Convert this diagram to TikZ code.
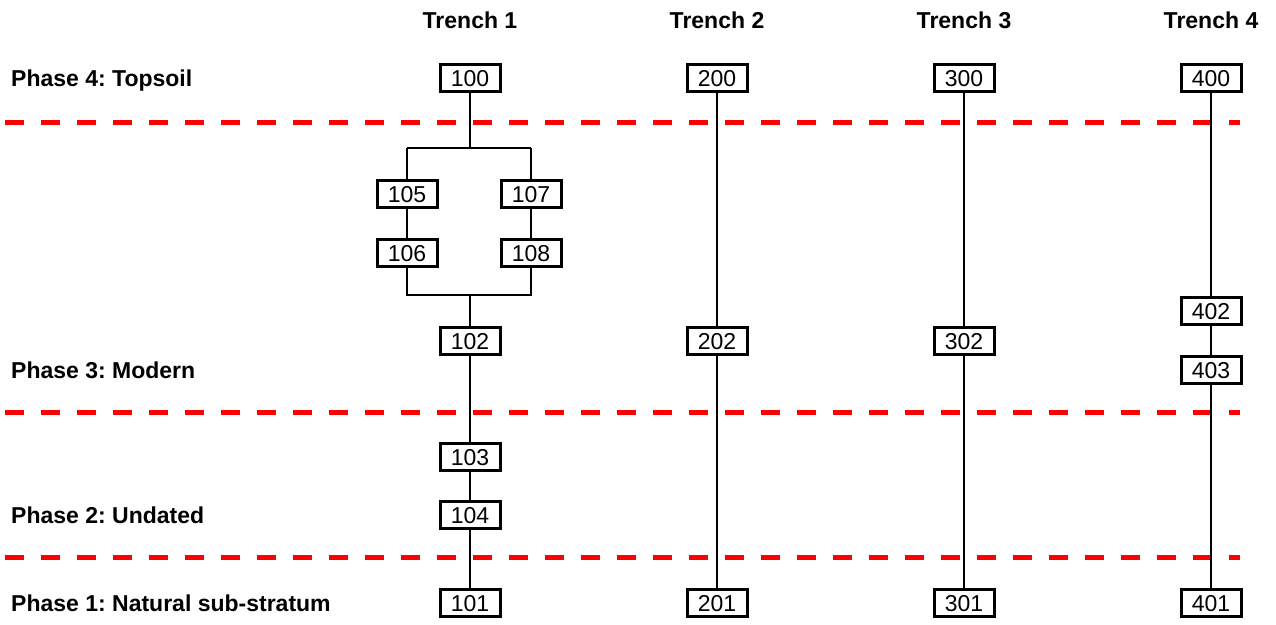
\documentclass[tikz,border=0pt]{standalone}
\usepackage{fontspec}
\setmainfont{Liberation Sans}
\frenchspacing
\begin{document}
\begin{tikzpicture}[x=1pt,y=-1pt,
  ctx/.style={draw=black,line width=3pt,fill=white,minimum width=60pt,minimum height=27.5pt,inner sep=0pt,text height=16.5pt,text depth=0pt,font=\fontsize{23}{27}\selectfont},
  lbl/.style={font=\fontsize{23}{27}\selectfont\bfseries,inner sep=0pt},
  phase/.style={red,line width=5pt,dash pattern=on 19pt off 17pt},
  link/.style={line width=1.5pt}]
\useasboundingbox (0,0) rectangle (1276,624);
% phase dividers
\coordinate (d1a) at (5,122); \coordinate (d1b) at (1240,122);
\coordinate (d2a) at (5,412); \coordinate (d2b) at (1240,412);
\coordinate (d3a) at (5,557); \coordinate (d3b) at (1240,557);
\draw[phase] (d1a) -- (d1b);
\draw[phase] (d2a) -- (d2b);
\draw[phase] (d3a) -- (d3b);
% labels
\node[lbl,anchor=base] (t1) at (470,28.5) {Trench 1};
\node[lbl,anchor=base] (t2) at (717,28.5) {Trench 2};
\node[lbl,anchor=base] (t3) at (964,28.5) {Trench 3};
\node[lbl,anchor=base] (t4) at (1211,28.5) {Trench 4};
\node[lbl,anchor=base west] (p4) at (11,86.5) {Phase 4: Topsoil};
\node[lbl,anchor=base west] (p3) at (11,378.5) {Phase 3: Modern};
\node[lbl,anchor=base west] (p2) at (11,523.5) {Phase 2: Undated};
\node[lbl,anchor=base west] (p1) at (11,611.5) {Phase 1: Natural sub-stratum};
% branch coordinates
\coordinate (s1) at (470,148);
\coordinate (sl) at (407,148);
\coordinate (sr) at (531,148);
\coordinate (j1) at (470,295);
\coordinate (jl) at (407,295);
\coordinate (jr) at (531,295);
% nodes (positions)
\path (470,78) coordinate (c100) (407,194) coordinate (c105) (407,253) coordinate (c106)
      (531,194) coordinate (c107) (531,253) coordinate (c108) (470,603) coordinate (c101)
      (717,78) coordinate (c200) (717,603) coordinate (c201)
      (964,78) coordinate (c300) (964,603) coordinate (c301)
      (1211,78) coordinate (c400) (1211,603) coordinate (c401);
% connectors (drawn before nodes)
\draw[link] (c100) -- (s1);
\draw[link] (sl) -- (sr);
\draw[link] (sl) -- (c105);
\draw[link] (sr) -- (c107);
\draw[link] (c105) -- (c106) -- (jl) -- (jr) -- (c108) -- (c107);
\draw[link] (j1) -- (c101);
\draw[link] (c200) -- (c201);
\draw[link] (c300) -- (c301);
\draw[link] (c400) -- (c401);
% nodes
\node[ctx] (n100) at (c100) {100};
\node[ctx] (n105) at (c105) {105};
\node[ctx] (n106) at (c106) {106};
\node[ctx] (n107) at (c107) {107};
\node[ctx] (n108) at (c108) {108};
\node[ctx] (n102) at (470,341) {102};
\node[ctx] (n103) at (470,457) {103};
\node[ctx] (n104) at (470,515) {104};
\node[ctx] (n101) at (c101) {101};
\node[ctx] (n200) at (c200) {200};
\node[ctx] (n202) at (717,341) {202};
\node[ctx] (n201) at (c201) {201};
\node[ctx] (n300) at (c300) {300};
\node[ctx] (n302) at (964,341) {302};
\node[ctx] (n301) at (c301) {301};
\node[ctx] (n400) at (c400) {400};
\node[ctx] (n402) at (1211,311) {402};
\node[ctx] (n403) at (1211,370) {403};
\node[ctx] (n401) at (c401) {401};
\end{tikzpicture}
\end{document}
